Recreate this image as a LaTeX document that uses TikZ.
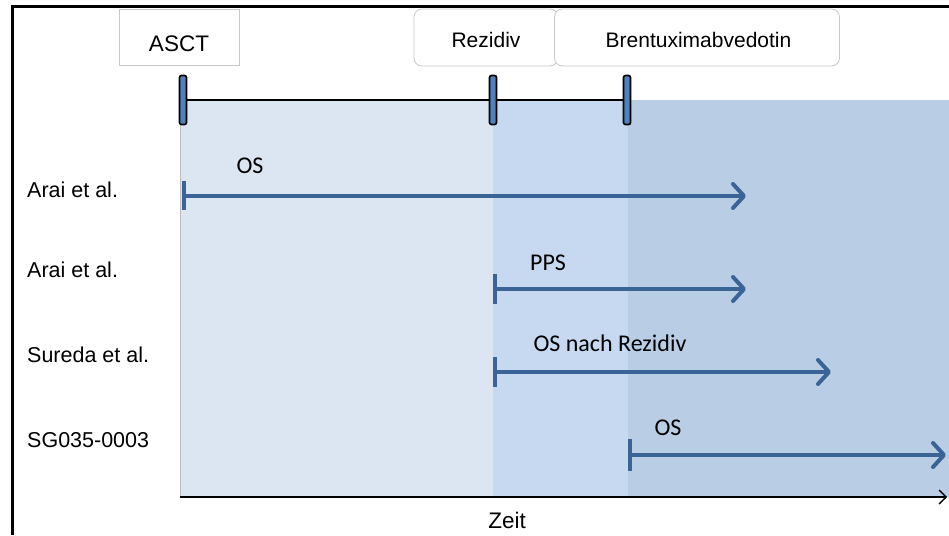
\documentclass[tikz,border=0pt]{standalone}
\usepackage{fontspec}
\setmainfont{Liberation Sans}
\newfontfamily\calfont{Carlito}
\usetikzlibrary{arrows.meta}
\definecolor{regA}{HTML}{DCE6F2}
\definecolor{regB}{HTML}{C6D9F0}
\definecolor{regC}{HTML}{B9CDE5}
\definecolor{arr}{HTML}{3A6496}
\definecolor{mark}{HTML}{4F81BD}
\definecolor{boxline}{HTML}{C8C8C8}
\tikzset{
  lbox/.style={draw=boxline,line width=0.8pt,fill=white,inner sep=0pt,font=\fontsize{21}{25}\selectfont},
  marker/.style={draw=black,line width=1.6pt,fill=mark,rounded corners=2pt,minimum width=7pt,minimum height=49pt,inner sep=0pt},
  rowlab/.style={anchor=west,font=\fontsize{21.5}{25}\selectfont,inner sep=0pt},
  arrlab/.style={font=\calfont\fontsize{24}{28}\selectfont,inner sep=0pt},
  span/.style={draw=arr,line width=4pt,-{Straight Barb[length=11pt,width=24pt,line width=4pt,round]}},
  tick/.style={draw=arr,line width=4pt}
}
\begin{document}
\begin{tikzpicture}[x=1pt,y=-1pt]
\useasboundingbox (0,0) rectangle (949,535);
% regions
\fill[regA] (180,100) rectangle (493,497);
\fill[regB] (493,100) rectangle (628,497);
\fill[regC] (628,100) rectangle (949,497);
\draw[gray!50,line width=0.6pt] (180,100) -- (180,497);
% frame
\draw[black,line width=3pt] (12,535) -- (12,7) -- (949,7);
% label boxes
\node[lbox,font=\fontsize{22.5}{26}\selectfont,minimum width=120pt,text height=43pt,text depth=13pt] (asct) at (179,37) {ASCT};
\node[lbox,rounded corners=8pt,minimum width=144pt,text height=39pt,text depth=18pt] (rez) at (486,37.5) {Rezidiv};
\node[lbox,rounded corners=8pt,minimum width=285pt,text height=39pt,text depth=18pt] (bv) at (697,37.5) {\hspace*{3pt}Brentuximabvedotin};
% timeline
\coordinate (t1) at (183,100);
\coordinate (t2) at (493,100);
\coordinate (t3) at (627,100);
\draw[black,line width=1.3pt] (t1) -- (t3);
\node[marker] (m1) at (t1) {};
\node[marker] (m2) at (t2) {};
\node[marker] (m3) at (t3) {};
% axis
\coordinate (ax0) at (180,497);
\coordinate (ax1) at (947,497);
\draw[black,line width=1.3pt,-{Straight Barb[length=7pt,width=14pt]}] (ax0) -- (ax1);
\node[font=\fontsize{22.5}{26}\selectfont] (zeit) at (507,520) {Zeit};
% row labels
\node[rowlab] (r1) at (27,190) {Arai et al.};
\node[rowlab] (r2) at (27,270) {Arai et al.};
\node[rowlab] (r3) at (27,355) {Sureda et al.};
\node[rowlab] (r4) at (27,440) {SG035-0003};
% arrows
\coordinate (a1s) at (184,196); \coordinate (a1e) at (746,196);
\coordinate (a2s) at (495,289); \coordinate (a2e) at (746,289);
\coordinate (a3s) at (495,372); \coordinate (a3e) at (831,372);
\coordinate (a4s) at (630,455); \coordinate (a4e) at (946,455);
\draw[tick] (184,181) -- (184,210);
\draw[tick] (495,274) -- (495,304);
\draw[tick] (495,357) -- (495,387);
\draw[tick] (630,439) -- (630,471);
\draw[span] (a1s) -- (a1e);
\draw[span] (a2s) -- (a2e);
\draw[span] (a3s) -- (a3e);
\draw[span] (a4s) -- (a4e);
\node[arrlab] (l1) at (250,166) {OS};
\node[arrlab] (l2) at (548,263) {PPS};
\node[arrlab] (l3) at (610,343) {OS nach Rezidiv};
\node[arrlab] (l4) at (668,428) {OS};
\end{tikzpicture}
\end{document}
